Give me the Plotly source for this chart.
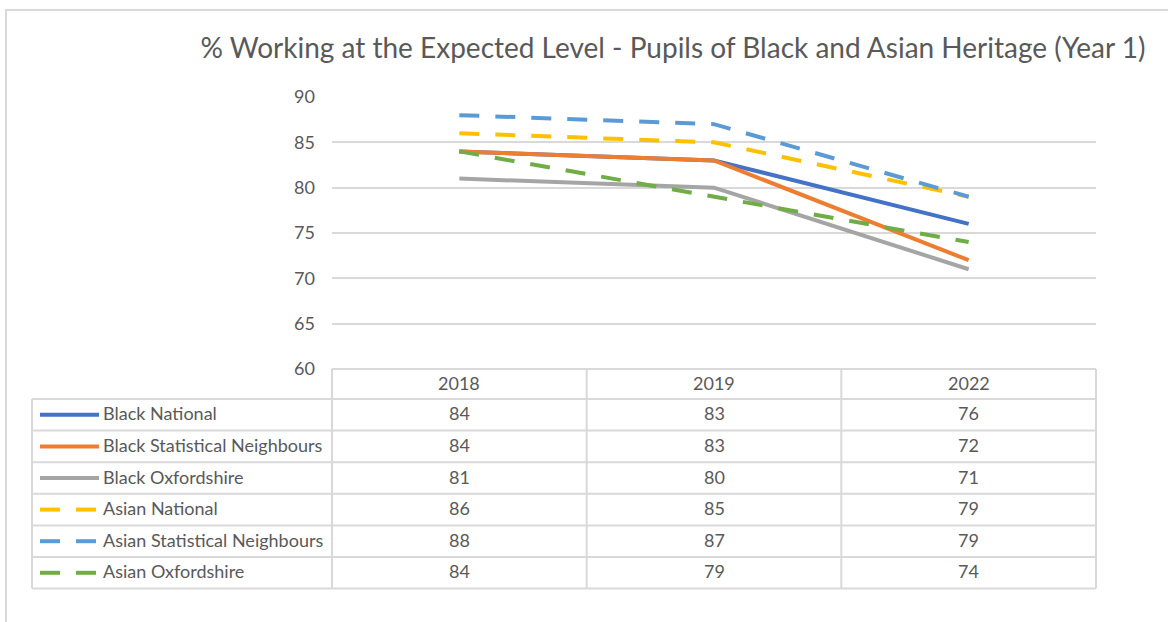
import plotly.graph_objects as go

years = ['2018', '2019', '2022']
series_names = ['Black National', 'Black Statistical Neighbours', 'Black Oxfordshire',
                'Asian National', 'Asian Statistical Neighbours', 'Asian Oxfordshire']
black_national = [84, 83, 76]
black_stat_neighbours = [84, 83, 72]
black_oxfordshire = [81, 80, 71]
asian_national = [86, 85, 79]
asian_stat_neighbours = [88, 87, 79]
asian_oxfordshire = [84, 79, 74]
y_ticks = [60, 65, 70, 75, 80, 85, 90]

values = [black_national, black_stat_neighbours, black_oxfordshire,
          asian_national, asian_stat_neighbours, asian_oxfordshire]
colors = ['#4472C4', '#ED7D31', '#A5A5A5', '#FFC000', '#5B9BD5', '#70AD47']
dashes = ['solid', 'solid', 'solid', '20px,16px', '20px,16px', '20px,16px']

W, H = 1168, 622
L, R, T, B = 332, 72, 97, 253
pw, ph = W - L - R, H - T - B
font = 'Lato, Calibri, sans-serif'
grey = '#d9d9d9'
txt = '#595959'


def px(x):
    return (x - L) / pw


def py(y):
    return (H - B - y) / ph


fig = go.Figure()
for name, vals, c, d in zip(series_names, values, colors, dashes):
    fig.add_trace(go.Scatter(x=years, y=vals, name=name, mode='lines',
                             line=dict(color=c, width=4, dash=d)))

shapes = []
annotations = []
# outer frame
shapes.append(dict(type='rect', xref='paper', yref='paper', x0=px(6), x1=px(W + 10),
                   y0=py(H + 10), y1=py(10), line=dict(color=grey, width=2)))

# data table under the plot
top = H - B
head_h = 30
row_h = 31.6
left = 32
col_w = pw / len(years)
bottom = top + head_h + row_h * len(series_names)
line = dict(color=grey, width=2)
shapes.append(dict(type='line', xref='paper', yref='paper', x0=0, x1=1,
                   y0=py(top), y1=py(top), line=line))
for i in range(len(series_names) + 1):
    yy = top + head_h + row_h * i
    shapes.append(dict(type='line', xref='paper', yref='paper', x0=px(left), x1=1,
                       y0=py(yy), y1=py(yy), line=line))
shapes.append(dict(type='line', xref='paper', yref='paper', x0=px(left), x1=px(left),
                   y0=py(top + head_h), y1=py(bottom), line=line))
for j in range(len(years) + 1):
    xx = L + col_w * j
    shapes.append(dict(type='line', xref='paper', yref='paper', x0=px(xx), x1=px(xx),
                       y0=py(top), y1=py(bottom), line=line))

tfont = dict(family=font, size=18, color=txt)
for j, yr in enumerate(years):
    annotations.append(dict(xref='paper', yref='paper', x=px(L + col_w * (j + 0.5)),
                            y=py(top + head_h / 2 - 1), text=yr, showarrow=False,
                            xanchor='center', yanchor='middle', font=tfont))

for i, (name, vals, c, d) in enumerate(zip(series_names, values, colors, dashes)):
    yc = py(top + head_h + row_h * (i + 0.5))
    if d == 'solid':
        shapes.append(dict(type='line', xref='paper', yref='paper', x0=px(40), x1=px(99),
                           y0=yc, y1=yc, line=dict(color=c, width=4)))
    else:
        for a, b in [(40, 60), (76, 96)]:
            shapes.append(dict(type='line', xref='paper', yref='paper', x0=px(a), x1=px(b),
                               y0=yc, y1=yc, line=dict(color=c, width=4)))
    yt = py(top + head_h + row_h * (i + 0.5) - 1.5)
    annotations.append(dict(xref='paper', yref='paper', x=px(101), y=yt, text=name,
                            xanchor='left', yanchor='middle', showarrow=False, font=tfont))
    for j, v in enumerate(vals):
        annotations.append(dict(xref='paper', yref='paper', x=px(L + col_w * (j + 0.5)),
                                y=yt, text=str(v), showarrow=False,
                                xanchor='center', yanchor='middle', font=tfont))

fig.update_layout(
    width=W, height=H,
    margin=dict(l=L, r=R, t=T, b=B, autoexpand=False),
    paper_bgcolor='white', plot_bgcolor='white',
    showlegend=False,
    title=dict(text='% Working at the Expected Level - Pupils of Black and Asian Heritage (Year 1)',
               x=673 / W, xref='container', xanchor='center',
               y=1 - 48 / H, yref='container', yanchor='middle',
               font=dict(family=font, size=28, color=txt)),
    xaxis=dict(type='category', range=[-0.5, 2.5], showticklabels=False,
               showgrid=False, zeroline=False, showline=False),
    yaxis=dict(range=[60, 90], tickvals=y_ticks, showgrid=True, gridcolor=grey, gridwidth=1.5,
               zeroline=False, showline=False, ticklabelstandoff=16,
               tickfont=tfont),
    shapes=shapes,
    annotations=annotations,
)

fig.write_html('out.html', config={'displayModeBar': False},
               post_script="document.body.style.margin='0';")
